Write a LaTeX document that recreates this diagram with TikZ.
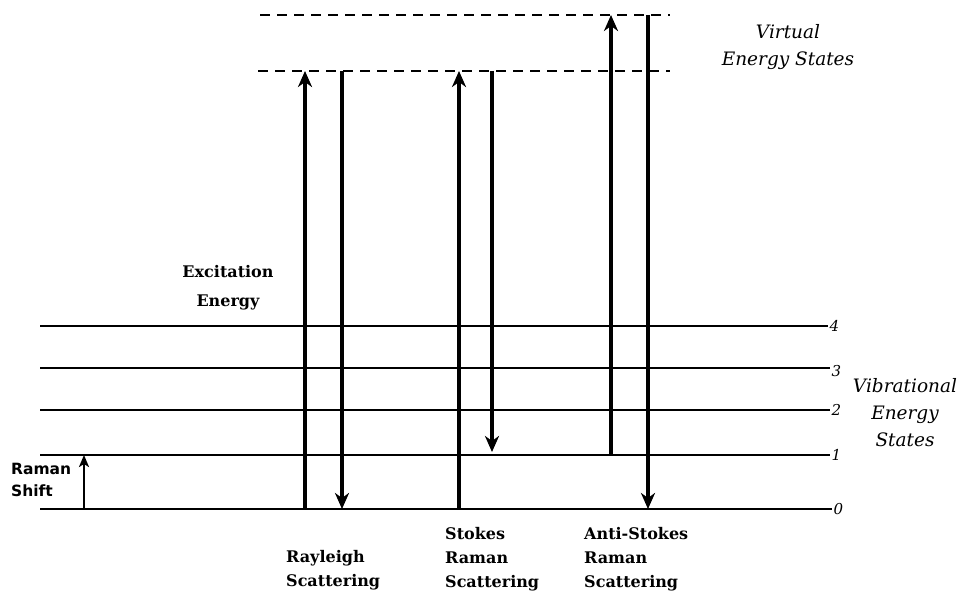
\documentclass[tikz,border=0pt]{standalone}
\usepackage{fontspec}
\setmainfont{DejaVu Serif}
\newfontfamily\sansf{DejaVu Sans}
\usetikzlibrary{arrows.meta}
\begin{document}
\begin{tikzpicture}[x=1pt,y=-1pt,
  level/.style={line width=1.4pt},
  virt/.style={line width=1.4pt, dash pattern=on 10pt off 7pt},
  photon/.style={line width=4.2pt, -{Stealth[length=16pt,width=14pt,inset=5pt]}},
  shiftarrow/.style={line width=2.8pt, -{Stealth[length=12pt,width=10pt,inset=3pt]}},
  num/.style={font=\itshape\fontsize{15}{17}\selectfont, anchor=west, inner sep=1pt},
  blab/.style={font=\bfseries\fontsize{16}{24}\selectfont, align=left, anchor=west, inner sep=0pt},
  ilab/.style={font=\itshape\fontsize{18.5}{27}\selectfont, align=center, inner sep=0pt}]
\useasboundingbox (0,0) rectangle (962,594);
% level lines
\coordinate (l0a) at (40,509); \coordinate (l0b) at (832,509);
\coordinate (l1a) at (40,455); \coordinate (l1b) at (830,455);
\coordinate (l2a) at (40,410); \coordinate (l2b) at (830,410);
\coordinate (l3a) at (40,368); \coordinate (l3b) at (830,368);
\coordinate (l4a) at (40,326); \coordinate (l4b) at (828,326);
\draw[level] (l0a) -- (l0b) node[num] (n0) {0};
\draw[level] (l1a) -- (l1b) node[num] (n1) {1};
\draw[level] (l2a) -- (l2b) node[num] (n2) {2};
\draw[level] (l3a) -- (l3b) node[num,yshift=-3pt] (n3) {3};
\draw[level] (l4a) -- (l4b) node[num] (n4) {4};
% virtual levels
\coordinate (v1a) at (260,15); \coordinate (v1b) at (670,15);
\coordinate (v2a) at (258,71); \coordinate (v2b) at (670,71);
\draw[virt] (v1a) -- (v1b);
\draw[virt] (v2a) -- (v2b);
% Rayleigh
\coordinate (ra0) at (305,509); \coordinate (ra1) at (305,71);
\coordinate (rb0) at (342,71);  \coordinate (rb1) at (342,509);
\draw[photon] (ra0) -- (ra1);
\draw[photon] (rb0) -- (rb1);
% Stokes
\coordinate (sa0) at (459,509); \coordinate (sa1) at (459,71);
\coordinate (sb0) at (492,71);  \coordinate (sb1) at (492,452);
\draw[photon] (sa0) -- (sa1);
\draw[photon] (sb0) -- (sb1);
% Anti-Stokes
\coordinate (aa0) at (611,455); \coordinate (aa1) at (611,15);
\coordinate (ab0) at (648,15);  \coordinate (ab1) at (648,509);
\draw[photon] (aa0) -- (aa1);
\draw[photon] (ab0) -- (ab1);
% Raman shift
\coordinate (rs0) at (84,509); \coordinate (rs1) at (84,455);
\draw[shiftarrow] (rs0) -- (rs1);
% labels
\node[font=\bfseries\fontsize{16}{29}\selectfont, align=center, inner sep=0pt] (exc) at (228,288) {Excitation\\Energy};
\node[font=\sansf\bfseries\fontsize{15.5}{22}\selectfont, align=left, anchor=west, inner sep=0pt] (rsh) at (11,480) {Raman\\Shift};
\node[blab] (ray) at (286,570) {Rayleigh\\Scattering};
\node[blab] (sto) at (445,559) {Stokes\\Raman\\Scattering};
\node[blab] (ast) at (584,559) {Anti-Stokes\\Raman\\Scattering};
\node[ilab] (vir) at (788,47) {Virtual\\Energy States};
\node[ilab] (vib) at (905,413) {Vibrational\\Energy\\States};
\end{tikzpicture}
\end{document}
